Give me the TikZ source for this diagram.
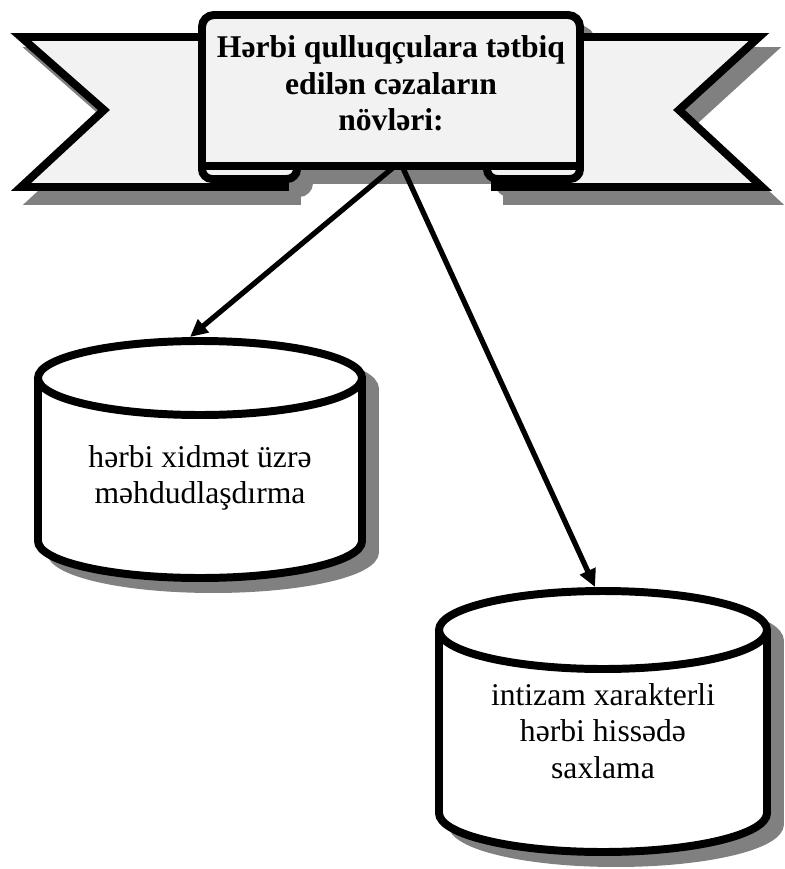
\documentclass[tikz,border=0pt]{standalone}
\usepackage{fontspec}
\setmainfont{Liberation Serif}
\usetikzlibrary{arrows.meta, calc}

\definecolor{ribbonfill}{HTML}{F2F2F2}
\definecolor{shadowgray}{HTML}{808080}

\begin{document}
\begin{tikzpicture}[x=0.03cm, y=-0.03cm,
    bandline/.style={line width=6.8pt, draw=black, fill=ribbonfill},
    bandshadow/.style={line width=6.8pt, draw=shadowgray, fill=shadowgray},
    cylline/.style={line width=6.8pt, draw=black, fill=white},
    panel/.style={minimum width=11.34cm, minimum height=4.53cm,
                  inner sep=0pt, outer sep=0pt, align=center,
                  font=\fontsize{27}{31}\selectfont\bfseries},
    cyltext/.style={align=center, font=\fontsize{27}{31}\selectfont},
    link/.style={line width=4.5pt, -{Triangle[length=15pt, width=14pt]}}]

    \path[use as bounding box, fill=white] (0,0) rectangle (785,869);

    % shadow of the band
    \begin{scope}[shift={(12,14)}]
      \draw[bandshadow] (21,37) -- (104,110) -- (21,187) -- (285,187) -- (285,37) -- cycle;
      \draw[bandshadow] (759,37) -- (679,110) -- (762,187) -- (495,187) -- (495,37) -- cycle;
      \draw[bandshadow] (202,150) -- (202,169) arc[start angle=180, end angle=90, radius=10]
        -- (287,179) arc[start angle=90, end angle=0, radius=10] -- (297,150) -- cycle;
      \draw[bandshadow] (487,150) -- (487,169) arc[start angle=180, end angle=90, radius=10]
        -- (570,179) arc[start angle=90, end angle=0, radius=10] -- (580,150) -- cycle;
      \draw[bandshadow, rounded corners=12pt] (202,15) rectangle (580,166);
    \end{scope}

    % band tails and folds
    \draw[bandline] (21,37) -- (104,110) -- (21,187) -- (285,187) -- (285,37) -- cycle;
    \draw[bandline] (759,37) -- (679,110) -- (762,187) -- (495,187) -- (495,37) -- cycle;
    \draw[bandline] (202,150) -- (202,169) arc[start angle=180, end angle=90, radius=10]
      -- (287,179) arc[start angle=90, end angle=0, radius=10] -- (297,150) -- cycle;
    \draw[bandline] (487,150) -- (487,169) arc[start angle=180, end angle=90, radius=10]
      -- (570,179) arc[start angle=90, end angle=0, radius=10] -- (580,150) -- cycle;

    % front of the band
    \draw[bandline] (202,166) -- (202,27) arc[start angle=180, end angle=270, radius=12]
      -- (568,15) arc[start angle=270, end angle=360, radius=12] -- (580,166) -- cycle;
    \node[panel] (title) at (391,83.5) {Hərbi qulluqçulara tətbiq\\edilən cəzaların\\növləri:};

    % cylinders
    \foreach \cx/\ty/\by/\rx/\ry in {200/378/541/162/37, 603/630/813/164/39} {
      \draw[bandshadow, shift={(13,11)}] (\cx-\rx,\ty) -- (\cx-\rx,\by)
        arc[start angle=180, end angle=0, x radius=\rx, y radius=\ry]
        -- (\cx+\rx,\ty) arc[start angle=0, end angle=-180, x radius=\rx, y radius=\ry] -- cycle;
      \draw[cylline] (\cx-\rx,\ty) -- (\cx-\rx,\by)
        arc[start angle=180, end angle=0, x radius=\rx, y radius=\ry] -- (\cx+\rx,\ty);
      \draw[cylline] (\cx,\ty) ellipse[x radius=\rx, y radius=\ry];
    }

    \node[cyltext] (limit) at (200,478) {hərbi xidmət üzrə\\məhdudlaşdırma};
    \node[cyltext] (keep) at (603,731) {intizam xarakterli\\hərbi hissədə\\saxlama};

    \coordinate (limit top) at (190,337);
    \coordinate (keep top) at (595,587);

    \draw[link] ($(title.south)+(4,7)$) -- (limit top);
    \draw[link] ($(title.south)+(11,7)$) -- (keep top);
\end{tikzpicture}
\end{document}
